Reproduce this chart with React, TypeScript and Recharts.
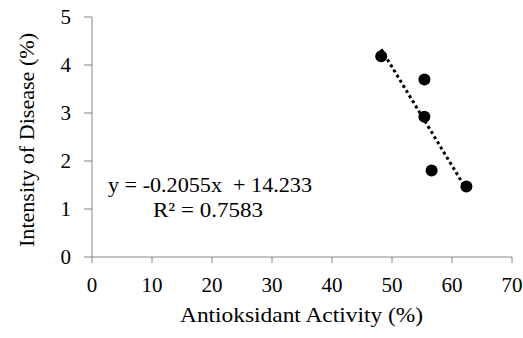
import React from 'react';
import { ScatterChart, Scatter, XAxis, YAxis, ReferenceLine, Customized } from 'recharts';

const activity = [48.2, 55.4, 55.4, 56.6, 62.4];
const intensity = [4.18, 3.7, 2.92, 1.8, 1.47];
const xTicks = [0, 10, 20, 30, 40, 50, 60, 70];
const yTicks = [0, 1, 2, 3, 4, 5];
const slope = -0.2055;
const intercept = 14.233;
const equationText = 'y = -0.2055x  + 14.233';
const r2Text = 'R² = 0.7583';
const xTitle = 'Antioksidant Activity (%)';
const yTitle = 'Intensity of Disease (%)';

const points = activity.map((x, i) => ({ x, y: intensity[i] }));
const xMin = Math.min(...activity);
const xMax = Math.max(...activity);
const trend = [
  { x: xMin, y: intercept + slope * xMin },
  { x: xMax, y: intercept + slope * xMax },
];

const FONT = "'Liberation Serif'";
const AXIS = '#868686';

const Dot = (props: any) => <circle cx={props.cx} cy={props.cy} r={6} fill="#000" />;

const XTick = (props: any) => (
  <text x={props.x} y={props.y} dy={15} textAnchor="middle" fill="#000" style={{ fontFamily: FONT, fontSize: 21 }}>
    {props.payload.value}
  </text>
);

const YTick = (props: any) => (
  <text x={props.x} y={props.y} dy={7} textAnchor="end" fill="#000" style={{ fontFamily: FONT, fontSize: 21 }}>
    {props.payload.value}
  </text>
);

const Texts = () => (
  <g fill="#000">
    <text x={108} y={192} textLength={204} lengthAdjust="spacingAndGlyphs" style={{ fontFamily: FONT, fontSize: 21, whiteSpace: 'pre' }}>{equationText}</text>
    <text x={153} y={217} textLength={110} lengthAdjust="spacingAndGlyphs" style={{ fontFamily: FONT, fontSize: 21 }}>{r2Text}</text>
    <text x={180} y={322} textLength={243} lengthAdjust="spacingAndGlyphs" style={{ fontFamily: FONT, fontSize: 22 }}>{xTitle}</text>
    <text x={0} y={0} textLength={214} lengthAdjust="spacingAndGlyphs" transform="translate(34,247) rotate(-90)" style={{ fontFamily: FONT, fontSize: 22 }}>{yTitle}</text>
  </g>
);

export default function App() {
  return (
    <div style={{ position: 'absolute', left: 0, top: 0, background: '#fff', fontFamily: FONT }}>
      <ScatterChart width={523} height={338} margin={{ top: 17, right: 11, bottom: 41, left: 22 }}>
        <XAxis
          type="number"
          dataKey="x"
          domain={[0, 70]}
          ticks={xTicks}
          height={40}
          tickSize={6}
          tickMargin={14}
          axisLine={{ stroke: AXIS }}
          tickLine={{ stroke: AXIS }}
          tick={<XTick />}
          allowDataOverflow
        />
        <YAxis
          type="number"
          dataKey="y"
          domain={[0, 5]}
          ticks={yTicks}
          width={70}
          tickSize={8}
          tickMargin={13}
          axisLine={{ stroke: AXIS }}
          tickLine={{ stroke: AXIS }}
          tick={<YTick />}
          allowDataOverflow
        />
        <ReferenceLine
          segment={trend}
          stroke="#000"
          strokeWidth={3}
          strokeDasharray="3 3"
          ifOverflow="visible"
        />
        <Scatter data={points} shape={<Dot />} isAnimationActive={false} />
        <Customized component={Texts} />
      </ScatterChart>
    </div>
  );
}
